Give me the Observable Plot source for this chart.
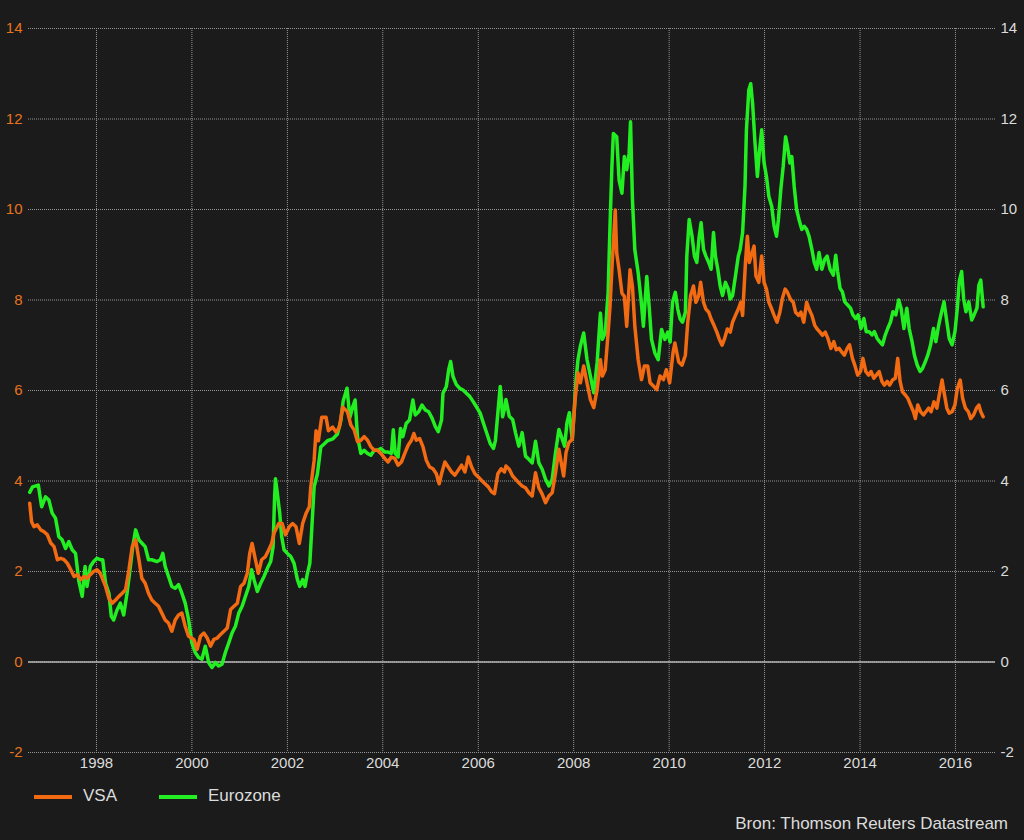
<!DOCTYPE html>
<html>
<head>
<meta charset="utf-8">
<script src="https://cdn.jsdelivr.net/npm/d3@7"></script>
<script src="https://cdn.jsdelivr.net/npm/@observablehq/plot@0.6"></script>
<style>
  html, body { margin: 0; padding: 0; background: #1b1b1b; }
  body { width: 1024px; height: 840px; overflow: hidden; font-family: "Liberation Sans", Arial, sans-serif; }
  #chart svg { display: block; }
  #chart svg text { font-size: 15px; }
  #foot { position: relative; width: 1024px; height: 60px; color: #dcdcdc; font-size: 17px; }
  .sw { position: absolute; height: 4px; top: 15px; }
  .lab { position: absolute; top: 6px; line-height: 20px; }
  #cap { position: absolute; right: 16px; top: 34px; line-height: 20px; }
</style>
</head>
<body>
<div id="chart"></div>
<div id="foot">
  <div class="sw" style="left:34px;width:38px;background:#f26a12"></div>
  <div class="lab" style="left:83px">VSA</div>
  <div class="sw" style="left:159px;width:38px;background:#22ee22"></div>
  <div class="lab" style="left:208px">Eurozone</div>
  <div id="cap">Bron: Thomson Reuters Datastream</div>
</div>
<script>
// Series: [decimal year, value]
const vsa = [
[1996.60,3.51],[1996.64,3.10],[1996.69,2.99],[1996.76,3.03],[1996.83,2.92],[1996.90,2.88],[1996.97,2.81],[1997.04,2.63],[1997.11,2.55],[1997.18,2.26],[1997.25,2.29],[1997.32,2.26],[1997.39,2.18],[1997.46,2.04],[1997.53,1.89],[1997.60,1.93],[1997.67,1.82],[1997.74,1.89],[1997.80,1.85],[1997.87,1.93],[1997.94,2.00],[1998.01,2.04],[1998.08,1.96],[1998.19,1.67],[1998.26,1.41],[1998.33,1.30],[1998.40,1.37],[1998.47,1.45],[1998.54,1.52],[1998.61,1.60],[1998.68,2.04],[1998.75,2.55],[1998.82,2.70],[1998.89,2.26],[1998.95,1.85],[1999.02,1.74],[1999.09,1.52],[1999.16,1.37],[1999.23,1.30],[1999.30,1.23],[1999.37,1.08],[1999.44,0.93],[1999.51,0.86],[1999.58,0.68],[1999.65,0.93],[1999.72,1.04],[1999.79,1.08],[1999.86,0.79],
[1999.93,0.57],[2000.04,0.50],[2000.11,0.28],[2000.18,0.57],[2000.25,0.64],[2000.32,0.53],[2000.39,0.35],[2000.46,0.50],[2000.53,0.53],[2000.60,0.61],[2000.67,0.68],[2000.74,0.75],[2000.81,1.16],[2000.88,1.23],[2000.95,1.30],[2001.02,1.67],[2001.09,1.74],[2001.16,1.96],[2001.21,2.40],[2001.26,2.62],[2001.33,2.26],[2001.39,1.96],[2001.46,2.26],[2001.54,2.33],[2001.61,2.48],[2001.67,2.62],[2001.72,2.85],[2001.82,3.06],[2001.89,3.06],[2001.96,2.81],[2002.04,2.99],[2002.11,3.06],[2002.18,2.99],[2002.25,2.62],[2002.32,3.06],[2002.39,3.28],[2002.46,3.43],[2002.49,3.87],[2002.56,4.45],[2002.60,5.11],[2002.65,4.89],[2002.72,5.41],[2002.81,5.41],[2002.86,5.11],[2002.95,5.19],[2003.02,5.08],[2003.09,5.19],[2003.16,5.63],
[2003.26,5.53],[2003.33,5.24],[2003.40,5.13],[2003.47,4.87],[2003.54,4.90],[2003.61,4.98],[2003.68,4.90],[2003.75,4.76],[2003.82,4.68],[2003.89,4.68],[2003.96,4.61],[2004.04,4.50],[2004.11,4.42],[2004.18,4.53],[2004.25,4.50],[2004.32,4.35],[2004.39,4.42],[2004.46,4.61],[2004.53,4.79],[2004.60,4.90],[2004.65,5.05],[2004.70,4.90],[2004.77,4.94],[2004.84,4.76],[2004.91,4.46],[2004.98,4.31],[2005.05,4.27],[2005.12,4.16],[2005.18,3.94],[2005.24,4.20],[2005.30,4.42],[2005.37,4.31],[2005.44,4.20],[2005.51,4.13],[2005.58,4.24],[2005.65,4.35],[2005.72,4.20],[2005.79,4.53],[2005.86,4.31],[2005.93,4.16],[2006.00,4.09],[2006.07,4.01],[2006.14,3.94],[2006.21,3.87],[2006.28,3.76],[2006.34,3.72],[2006.41,4.16],[2006.48,4.27],[2006.55,4.20],
[2006.58,4.33],[2006.65,4.26],[2006.72,4.11],[2006.78,4.04],[2006.85,3.96],[2006.92,3.89],[2006.99,3.85],[2007.06,3.74],[2007.13,3.67],[2007.20,4.18],[2007.27,3.85],[2007.34,3.71],[2007.41,3.52],[2007.48,3.67],[2007.55,3.74],[2007.62,4.18],[2007.69,4.70],[2007.74,4.40],[2007.79,4.11],[2007.84,4.63],[2007.90,4.85],[2007.97,4.92],[2008.03,5.80],[2008.09,6.39],[2008.14,6.17],[2008.21,6.54],[2008.28,6.17],[2008.35,5.80],[2008.42,5.62],[2008.49,6.02],[2008.56,6.68],[2008.60,6.32],[2008.66,6.46],[2008.72,7.27],[2008.76,7.86],[2008.81,8.89],[2008.87,9.99],[2008.90,9.04],[2008.95,8.67],[2009.01,8.15],[2009.06,8.08],[2009.11,7.42],[2009.18,8.67],[2009.23,8.30],[2009.28,7.42],[2009.35,6.68],[2009.42,6.24],[2009.48,6.54],[2009.55,6.54],[2009.60,6.17],[2009.67,6.10],[2009.74,6.02],[2009.81,6.32],[2009.88,6.24],[2009.94,6.46],[2010.01,6.17],[2010.08,6.83],[2010.12,7.05],
[2010.20,6.63],[2010.27,6.56],[2010.34,6.78],[2010.39,7.51],[2010.45,8.10],[2010.51,8.31],[2010.56,7.95],[2010.62,8.10],[2010.66,8.39],[2010.72,7.95],[2010.77,7.80],[2010.83,7.73],[2010.88,7.58],[2010.94,7.44],[2011.00,7.29],[2011.05,7.14],[2011.11,7.00],[2011.16,7.14],[2011.22,7.36],[2011.28,7.29],[2011.33,7.51],[2011.39,7.66],[2011.45,7.80],[2011.50,7.95],[2011.54,7.66],[2011.60,8.83],[2011.64,9.41],[2011.68,8.83],[2011.74,9.05],[2011.78,9.19],[2011.82,8.53],[2011.88,8.39],[2011.94,8.97],[2011.99,8.39],[2012.04,8.24],[2012.09,7.95],[2012.15,7.80],[2012.20,7.66],[2012.26,7.51],[2012.32,7.73],[2012.37,8.02],[2012.43,8.24],[2012.48,8.17],[2012.54,8.02],[2012.60,7.95],[2012.65,7.73],[2012.71,7.66],[2012.76,7.73],[2012.82,7.51],[2012.88,7.95],[2012.93,7.80],[2012.99,7.66],[2013.05,7.44],[2013.10,7.36],[2013.16,7.29],[2013.21,7.22],[2013.27,7.29],[2013.33,7.14],
[2013.39,6.93],[2013.45,7.08],[2013.50,6.90],[2013.56,6.93],[2013.61,6.86],[2013.67,6.78],[2013.73,6.93],[2013.78,7.01],[2013.84,6.71],[2013.89,6.56],[2013.95,6.34],[2014.01,6.42],[2014.06,6.71],[2014.12,6.42],[2014.18,6.34],[2014.23,6.42],[2014.29,6.27],[2014.34,6.34],[2014.40,6.42],[2014.46,6.20],[2014.51,6.12],[2014.57,6.20],[2014.62,6.12],[2014.68,6.23],[2014.74,6.27],[2014.79,6.71],[2014.84,6.20],[2014.89,5.97],[2014.95,5.90],[2015.00,5.83],[2015.06,5.68],[2015.12,5.53],[2015.16,5.38],[2015.21,5.68],[2015.27,5.53],[2015.33,5.46],[2015.38,5.53],[2015.44,5.61],[2015.49,5.53],[2015.55,5.75],[2015.61,5.61],[2015.66,5.90],[2015.72,6.23],[2015.76,5.97],[2015.82,5.61],[2015.87,5.50],[2015.93,5.53],[2015.99,5.68],[2016.04,6.05],[2016.10,6.23],[2016.15,5.83],[2016.21,5.61],[2016.27,5.53],[2016.32,5.38],[2016.38,5.46],[2016.44,5.61],[2016.49,5.68],[2016.53,5.53],[2016.58,5.42]
];
const eurozone = [
[1996.60,3.75],[1996.66,3.87],[1996.78,3.91],[1996.85,3.43],[1996.93,3.65],[1997.00,3.58],[1997.07,3.29],[1997.14,3.18],[1997.21,2.77],[1997.28,2.70],[1997.35,2.51],[1997.42,2.66],[1997.49,2.48],[1997.56,2.40],[1997.63,1.78],[1997.70,1.45],[1997.76,2.11],[1997.80,1.67],[1997.87,2.11],[1997.94,2.22],[1998.01,2.29],[1998.08,2.26],[1998.13,2.26],[1998.19,1.74],[1998.26,1.52],[1998.31,1.01],[1998.36,0.93],[1998.43,1.15],[1998.50,1.30],[1998.57,1.04],[1998.64,1.52],[1998.71,2.11],[1998.76,2.55],[1998.82,2.92],[1998.89,2.70],[1998.95,2.63],[1999.02,2.55],[1999.09,2.26],[1999.16,2.26],[1999.27,2.22],[1999.34,2.26],[1999.39,2.40],[1999.44,2.11],[1999.51,1.89],[1999.58,1.67],[1999.65,1.63],[1999.72,1.71],[1999.79,1.52],[1999.86,1.30],
[1999.93,0.94],[2000.00,0.42],[2000.07,0.21],[2000.14,0.10],[2000.21,0.06],[2000.28,0.35],[2000.35,-0.01],[2000.42,-0.12],[2000.49,-0.01],[2000.56,-0.09],[2000.63,-0.05],[2000.70,0.21],[2000.77,0.42],[2000.84,0.64],[2000.91,0.79],[2000.98,1.08],[2001.05,1.23],[2001.12,1.45],[2001.19,1.67],[2001.25,2.04],[2001.30,1.82],[2001.37,1.56],[2001.44,1.74],[2001.51,1.89],[2001.58,2.07],[2001.65,2.22],[2001.70,2.55],[2001.73,3.60],[2001.75,4.05],[2001.79,3.72],[2001.84,3.28],[2001.88,2.77],[2001.93,2.48],[2002.00,2.40],[2002.07,2.33],[2002.14,2.18],[2002.21,1.82],[2002.26,1.67],[2002.32,1.82],[2002.37,1.67],[2002.42,1.96],[2002.47,2.18],[2002.51,2.92],[2002.56,3.87],[2002.63,4.16],[2002.70,4.75],[2002.77,4.82],[2002.84,4.89],[2002.95,4.93],[2003.05,5.04],[2003.12,5.33],[2003.17,5.77],
[2003.25,6.05],[2003.31,5.40],[2003.37,5.64],[2003.42,5.79],[2003.47,4.98],[2003.54,4.61],[2003.61,4.68],[2003.68,4.61],[2003.75,4.57],[2003.82,4.68],[2003.89,4.68],[2003.96,4.72],[2004.04,4.64],[2004.11,4.64],[2004.18,4.61],[2004.22,5.13],[2004.26,4.61],[2004.32,4.53],[2004.37,5.16],[2004.42,4.98],[2004.49,5.27],[2004.56,5.35],[2004.63,5.79],[2004.68,5.46],[2004.75,5.53],[2004.82,5.68],[2004.89,5.57],[2004.96,5.53],[2005.03,5.39],[2005.10,5.20],[2005.16,5.09],[2005.23,5.35],[2005.26,5.94],[2005.33,6.09],[2005.38,6.46],[2005.42,6.64],[2005.47,6.31],[2005.54,6.13],[2005.61,6.05],[2005.68,6.01],[2005.75,5.94],[2005.82,5.87],[2005.89,5.76],[2005.96,5.64],[2006.04,5.50],[2006.11,5.27],[2006.18,5.05],[2006.25,4.83],[2006.32,4.72],[2006.36,4.90],[2006.41,5.50],[2006.46,6.09],[2006.51,5.42],[2006.56,5.64],
[2006.58,5.80],[2006.65,5.43],[2006.72,5.36],[2006.78,5.07],[2006.85,4.77],[2006.92,5.07],[2006.99,4.55],[2007.06,4.48],[2007.13,4.40],[2007.20,4.88],[2007.27,4.40],[2007.34,4.26],[2007.41,4.04],[2007.48,3.89],[2007.55,4.04],[2007.62,4.63],[2007.69,5.14],[2007.74,4.99],[2007.81,4.77],[2007.86,5.29],[2007.91,5.51],[2007.97,4.92],[2008.00,5.36],[2008.05,6.24],[2008.09,6.68],[2008.14,6.98],[2008.21,7.27],[2008.28,6.68],[2008.35,6.32],[2008.42,5.95],[2008.49,6.61],[2008.56,7.71],[2008.60,7.13],[2008.66,7.27],[2008.72,8.15],[2008.76,9.63],[2008.80,10.95],[2008.83,11.68],[2008.90,11.61],[2008.95,10.65],[2009.01,10.36],[2009.06,11.17],[2009.11,10.88],[2009.16,11.24],[2009.19,11.94],[2009.23,10.21],[2009.28,9.11],[2009.35,8.60],[2009.41,8.01],[2009.46,7.42],[2009.53,8.52],[2009.58,7.86],[2009.63,7.13],[2009.70,6.83],[2009.77,6.68],[2009.84,7.35],[2009.91,7.13],
[2009.97,7.29],[2010.02,7.07],[2010.07,7.95],[2010.13,8.17],[2010.18,7.80],[2010.23,7.58],[2010.28,7.51],[2010.34,7.73],[2010.37,8.97],[2010.42,9.78],[2010.48,9.41],[2010.53,8.97],[2010.58,8.83],[2010.63,9.41],[2010.67,9.71],[2010.72,9.12],[2010.77,8.97],[2010.83,8.83],[2010.88,8.68],[2010.93,9.49],[2010.97,8.97],[2011.02,8.68],[2011.07,8.31],[2011.12,8.10],[2011.18,8.39],[2011.24,8.24],[2011.28,8.02],[2011.33,8.10],[2011.39,8.53],[2011.45,8.97],[2011.49,9.12],[2011.54,9.49],[2011.59,10.51],[2011.62,11.76],[2011.67,12.64],[2011.71,12.78],[2011.75,12.34],[2011.80,11.47],[2011.85,10.73],[2011.89,11.25],[2011.94,11.76],[2011.99,11.03],[2012.04,10.73],[2012.09,10.29],[2012.15,10.07],[2012.20,9.63],[2012.25,9.41],[2012.29,9.78],[2012.34,10.44],[2012.39,10.95],[2012.44,11.61],[2012.48,11.39],[2012.53,11.03],[2012.57,11.17],[2012.62,10.51],[2012.67,10.00],[2012.72,9.78],[2012.78,9.56],[2012.83,9.63],[2012.88,9.56],[2012.93,9.41],[2012.99,9.12],[2013.04,8.83],[2013.09,8.68],[2013.14,9.05],[2013.20,8.68],[2013.26,8.90],[2013.31,8.97],[2013.37,8.68],
[2013.44,8.55],[2013.49,8.99],[2013.53,8.63],[2013.58,8.26],[2013.63,8.18],[2013.68,7.96],[2013.74,7.89],[2013.80,7.82],[2013.85,7.67],[2013.91,7.59],[2013.96,7.67],[2014.02,7.37],[2014.08,7.59],[2014.13,7.30],[2014.19,7.30],[2014.25,7.23],[2014.30,7.30],[2014.36,7.15],[2014.41,7.08],[2014.47,7.01],[2014.53,7.23],[2014.58,7.37],[2014.64,7.52],[2014.69,7.74],[2014.75,7.67],[2014.81,8.00],[2014.86,7.82],[2014.92,7.37],[2014.98,7.82],[2015.03,7.37],[2015.09,7.08],[2015.14,6.78],[2015.20,6.56],[2015.26,6.42],[2015.31,6.49],[2015.37,6.64],[2015.42,6.78],[2015.48,7.01],[2015.54,7.37],[2015.59,7.08],[2015.65,7.45],[2015.71,7.74],[2015.76,7.96],[2015.82,7.52],[2015.87,7.15],[2015.93,7.01],[2015.99,7.30],[2016.04,7.82],[2016.08,8.41],[2016.13,8.63],[2016.17,8.04],[2016.22,7.74],[2016.28,7.96],[2016.34,7.56],[2016.39,7.67],[2016.45,7.82],[2016.49,8.33],[2016.53,8.44],[2016.58,7.85]
];
const yearTicks = [1998, 2000, 2002, 2004, 2006, 2008, 2010, 2012, 2014, 2016];
const valueTicks = [-2, 0, 2, 4, 6, 8, 10, 12, 14];
const xRange = [1996.575, 2016.838];

function yr(t) {
  const y = Math.floor(t);
  const s = Date.UTC(y, 0, 1), e = Date.UTC(y + 1, 0, 1);
  return new Date(s + (t - y) * (e - s));
}

const orange = "#f26a12";
const green = "#22ee22";
const xTickDates = yearTicks.map(y => new Date(Date.UTC(y, 0, 1)));
const plainNum = d => String(d);

const chart = Plot.plot({
  width: 1024,
  height: 780,
  marginTop: 28,
  marginBottom: 28,
  marginLeft: 28,
  marginRight: 29,
  style: { background: "transparent", color: "#dcdcdc", fontFamily: "'Liberation Sans', Arial, sans-serif", fontSize: "15px" },
  x: { type: "utc", domain: xRange.map(yr), label: null },
  y: { domain: [-2, 14], label: null },
  marks: [
    Plot.gridY({ ticks: valueTicks, stroke: "#959595", strokeOpacity: 1, strokeDasharray: "1,1" }),
    Plot.gridX({ ticks: xTickDates, stroke: "#959595", strokeOpacity: 1, strokeDasharray: "1,1" }),
    Plot.ruleY([0], { stroke: "#b4b4b4", strokeWidth: 1.5 }),
    Plot.line(eurozone, { x: d => yr(d[0]), y: d => d[1], stroke: green, strokeWidth: 3.5 }),
    Plot.line(vsa, { x: d => yr(d[0]), y: d => d[1], stroke: orange, strokeWidth: 3.5 }),
    Plot.axisY({ anchor: "left", ticks: valueTicks, tickSize: 0, tickPadding: 6, tickFormat: plainNum, fill: "#e8731f", fontSize: 15, label: null }),
    Plot.axisY({ anchor: "right", ticks: valueTicks, tickSize: 0, tickPadding: 5, tickFormat: plainNum, fill: "#dcdcdc", fontSize: 15, label: null }),
    Plot.axisX({ ticks: xTickDates, tickSize: 0, tickPadding: 5, tickFormat: d3.utcFormat("%Y"), fill: "#dcdcdc", fontSize: 15, label: null })
  ]
});
document.getElementById("chart").appendChild(chart);
</script>
</body>
</html>
